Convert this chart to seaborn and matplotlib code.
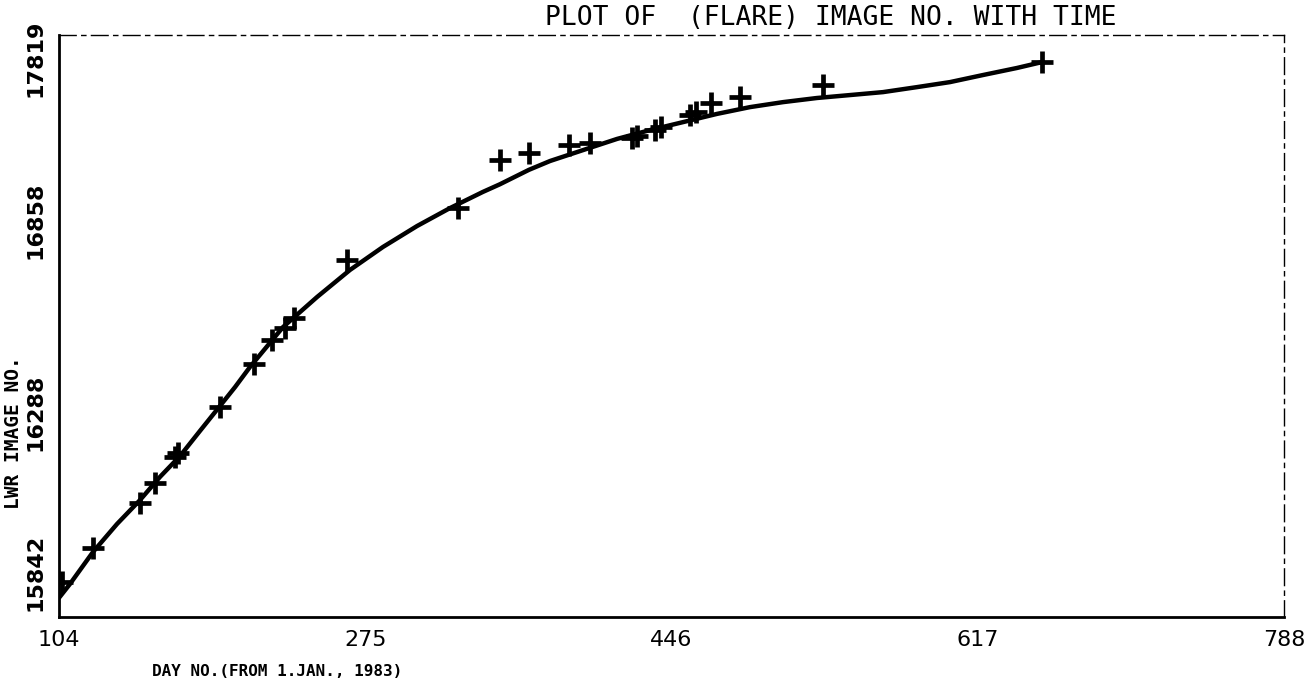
import matplotlib
matplotlib.use("Agg")
import matplotlib.pyplot as plt
import matplotlib.transforms as mtransforms
import seaborn as sns
import pandas as pd

# observed points: day number vs LWR image number
day = [105.7, 123.0, 149.2, 157.6, 168.8, 170.4, 193.9, 212.9, 222.9, 230.2,
       235.2, 264.8, 326.8, 350.2, 366.4, 388.8, 400.5, 423.9, 426.7, 436.8,
       440.1, 456.3, 459.7, 468.1, 484.3, 530.6, 652.9]
image_no = [15961, 16076, 16229, 16297, 16386, 16399, 16555, 16701, 16783, 16824,
            16858, 17055, 17231, 17394, 17418, 17445, 17452, 17469, 17476, 17496,
            17507, 17547, 17557, 17588, 17608, 17649, 17727]

# fitted curve
fit_day = [104.0, 110.1, 123.0, 136.4, 149.2, 160.4, 171.6, 182.7, 193.9, 202.3,
           210.6, 229.1, 248.1, 266.5, 284.9, 303.9, 322.3, 340.7, 350.2, 366.4,
           378.2, 396.6, 415.6, 434.0, 452.4, 471.4, 489.8, 508.3, 527.2, 545.7,
           564.1, 583.1, 601.5, 619.9, 638.9, 652.9]
fit_image_no = [15907, 15954, 16063, 16158, 16239, 16318, 16389, 16474, 16559, 16623,
                16691, 16827, 16929, 17021, 17099, 17170, 17231, 17286, 17312, 17361,
                17391, 17428, 17466, 17496, 17523, 17551, 17574, 17591, 17605, 17615,
                17625, 17642, 17659, 17683, 17707, 17727]

x_ticks = [104, 275, 446, 617, 788]
x_tick_labels = ["104", "275", "446", "617", "788"]
y_ticks = [15842, 16501, 17160, 17819]
y_tick_labels = ["15842", "16288", "16858", "17819"]

title = "PLOT OF  (FLARE) IMAGE NO. WITH TIME"
x_label = "DAY NO.(FROM 1.JAN., 1983)"
y_label = "LWR IMAGE NO."

sns.set_style("white")
plt.rcParams["font.family"] = ["DejaVu Sans"]
plt.rcParams["text.color"] = "black"
plt.rcParams["xtick.color"] = "black"
plt.rcParams["ytick.color"] = "black"
plt.rcParams["axes.labelcolor"] = "black"

pts = pd.DataFrame({"day": day, "image": image_no})
fit = pd.DataFrame({"day": fit_day, "image": fit_image_no})

fig = plt.figure(figsize=(13.07, 6.89), dpi=100)
ax = fig.add_axes([59 / 1307, 1 - 617 / 689, (1284 - 59) / 1307, (617 - 35) / 689])

sns.lineplot(data=fit, x="day", y="image", ax=ax, color="black", linewidth=3.2,
             sort=False, estimator=None)
sns.scatterplot(data=pts, x="day", y="image", ax=ax, marker="+", s=230,
                color="black", linewidth=3.4, zorder=3)

ax.set_xlim(104, 788)
ax.set_ylim(15842, 17819)
ax.set_xticks(x_ticks)
ax.set_xticklabels(x_tick_labels, fontsize=16)
ax.set_yticks(y_ticks)
ax.set_yticklabels(y_tick_labels, fontsize=16, fontweight="bold", rotation=90,
                   va="center")
ax.tick_params(axis="y", direction="out", length=7, width=1.5, pad=3)
ax.tick_params(axis="x", direction="out", length=3.6, width=1.2, pad=6)
ax.set_xlabel("")
ax.set_ylabel("")

# shift y tick labels (pixels, positive = downwards) as printed in the original
y_shift_px = [-45, -11, -9, 23]
for lab, dy in zip(ax.get_yticklabels(), y_shift_px):
    off = mtransforms.ScaledTranslation(0, -dy / 100, fig.dpi_scale_trans)
    lab.set_transform(lab.get_transform() + off)

for side in ["left", "bottom"]:
    ax.spines[side].set_linewidth(2.0)
    ax.spines[side].set_color("black")
for side in ["top", "right"]:
    ax.spines[side].set_linewidth(1.0)
    ax.spines[side].set_color("black")
    ax.spines[side].set_linestyle((0, (12, 4, 3, 4)))

fig.text(545 / 1307, 1 - 18 / 689, title, fontsize=19, family="DejaVu Sans Mono",
         ha="left", va="center")
fig.text(152 / 1307, 1 - 672 / 689, x_label, fontsize=11.5, fontweight="bold",
         family="DejaVu Sans Mono", ha="left", va="center")
fig.text(14 / 1307, 1 - 433 / 689, y_label, fontsize=14, fontweight="bold",
         family="DejaVu Sans Mono", rotation=90, ha="center", va="center")

fig.savefig("out.png", dpi=100, facecolor="white")
